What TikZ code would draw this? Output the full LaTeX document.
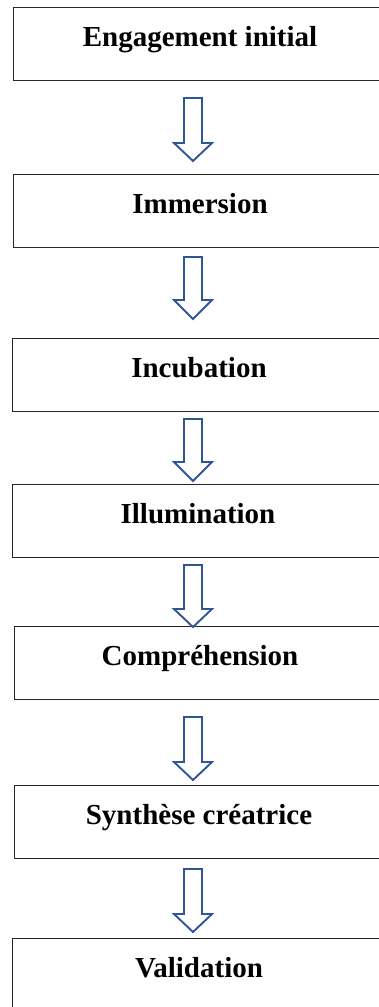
\documentclass[tikz,border=0pt]{standalone}
\usepackage{fontspec}
\setmainfont{Liberation Serif}
\begin{document}
\begin{tikzpicture}[x=1pt,y=-1pt,
  stagebox/.style={draw=black!85,line width=1.4pt,minimum width=373pt,minimum height=73pt,inner sep=0pt,anchor=north west},
  stagelabel/.style={font=\fontsize{29}{34}\selectfont\bfseries,anchor=base,inner sep=0pt},
  blockarrow/.style={draw={rgb,255:red,47;green,85;blue,151},line width=1.9pt,fill=white,line join=miter}]
\useasboundingbox (0,0) rectangle (379,1007);
% boxes
\node[stagebox] (b1) at (13,7) {};
\node[stagebox] (b2) at (13,174) {};
\node[stagebox] (b3) at (12,338) {};
\node[stagebox] (b4) at (12,484) {};
\node[stagebox] (b5) at (14,626) {};
\node[stagebox] (b6) at (14,785) {};
\node[stagebox] (b7) at (12,938) {};
% labels
\node[stagelabel] (t1) at (200,46) {Engagement initial};
\node[stagelabel] (t2) at (200,213) {Immersion};
\node[stagelabel] (t3) at (199,377) {Incubation};
\node[stagelabel] (t4) at (198,523) {Illumination};
\node[stagelabel] (t5) at (200,665) {Compréhension};
\node[stagelabel] (t6) at (199,824) {Synthèse créatrice};
\node[stagelabel] (t7) at (199,977) {Validation};
% block arrows
\newcommand{\blkarrow}[3]{%
  \draw[blockarrow] (184,#1) -- (202,#1) -- (202,#2) -- (212,#2) -- (193,#3) -- (174,#2) -- (184,#2) -- cycle;}
\blkarrow{98}{143}{161}
\blkarrow{257}{300}{319}
\blkarrow{419}{462}{481}
\blkarrow{565}{609}{627}
\blkarrow{717}{762}{780}
\blkarrow{869}{914}{932}
\end{tikzpicture}
\end{document}
